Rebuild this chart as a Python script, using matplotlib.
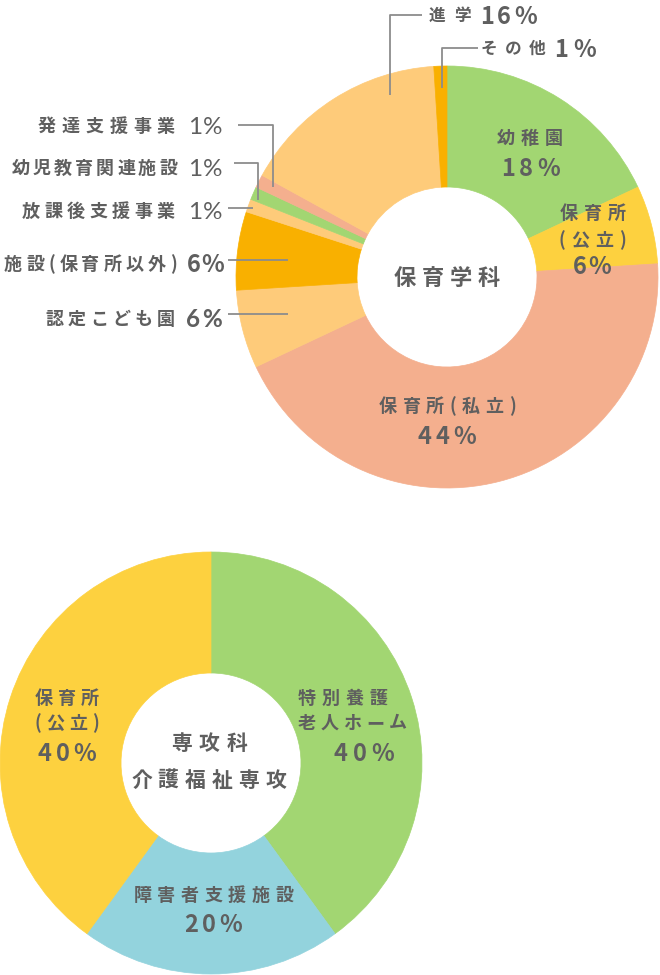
import matplotlib
matplotlib.use("Agg")
import matplotlib.pyplot as plt

plt.rcParams["font.family"] = ["Noto Sans CJK JP", "DejaVu Sans"]

# 保育学科
top_labels = ["幼稚園", "保育所\n(公立)", "保育所(私立)", "認定こども園", "施設(保育所以外)",
              "放課後支援事業", "幼児教育関連施設", "発達支援事業", "進学", "その他"]
top_values = [18, 6, 44, 6, 6, 1, 1, 1, 16, 1]
top_colors = ["#a2d672", "#fdd13f", "#f4af8e", "#fecb7a", "#f9b000",
              "#fecb7a", "#a2d672", "#f4af8e", "#fecb7a", "#f9b000"]

# 専攻科 介護福祉専攻
bottom_labels = ["特別養護\n老人ホーム", "障害者支援施設", "保育所\n(公立)"]
bottom_values = [40, 20, 40]
bottom_colors = ["#a2d672", "#93d3dd", "#fdd13f"]

TEXT = "#5f5f5f"
LINE = "#8c8c8c"

# where each text line sits: (left, right, centre y) in pixels
top_name_pos = [
    [(497, 563, 137)],
    [(560, 626, 212), (558, 626, 239)],
    [(379, 516, 405)],
    [(45, 175, 318)],
    [(4, 177, 263)],
    [(22, 175, 210)],
    [(12, 177, 167)],
    [(38, 175, 125)],
    [(429, 471, 15)],
    [(481, 545, 48)],
]
top_pct_pos = [(501, 560, 167), (573, 611, 265), (418, 476, 435), (186, 222, 318),
               (187, 222, 263), (188, 222, 210), (188, 222, 167), (188, 222, 125),
               (480, 537, 15), (554, 596, 48)]
# figure style per callout: cjk face, or latin face at a given weight
top_pct_style = ["cjk", "cjk", "cjk", "bold", "cjk", "normal", "normal", "normal",
                 "cjk", "cjk"]

bottom_name_pos = [
    [(298, 387, 697), (298, 407, 722)],
    [(134, 293, 894)],
    [(35, 99, 697), (35, 99, 722)],
]
bottom_pct_pos = [(334, 394, 752), (184, 242, 923), (38, 96, 752)]

leaders = [
    [(390, 95), (390, 15), (422, 15)],
    [(442, 88), (442, 48), (478, 48)],
    [(238, 125), (273, 125), (273, 187)],
    [(234, 163), (258, 163), (258, 200)],
    [(228, 208), (253, 208)],
    [(228, 260), (288, 260)],
    [(228, 314), (288, 314)],
]

fig = plt.figure(figsize=(6.6, 9.75), dpi=100)
ax = fig.add_axes([0, 0, 1, 1])


def donut(values, colors, center):
    # y axis is flipped, so this runs clockwise from 12 o'clock
    wedges, _ = ax.pie(values, colors=colors, startangle=-90, counterclock=True,
                       center=center, radius=211,
                       wedgeprops=dict(width=121, linewidth=0.5))
    for w in wedges:
        w.set_edgecolor(w.get_facecolor())


donut(top_values, top_colors, (447, 277))
donut(bottom_values, bottom_colors, (211, 763))

ax.set_xlim(0, 660)
ax.set_ylim(975, 0)
ax.set_aspect("equal")
ax.axis("off")

renderer = fig.canvas.get_renderer()
CJK = ["Noto Sans CJK JP", "DejaVu Sans"]
LATIN = ["Lato", "DejaVu Sans"]


def spread(s, x0, x1, y, size, weight="bold", family=CJK):
    """Lays the characters out evenly between x0 and x1."""
    kw = dict(fontsize=size, weight=weight, family=family)
    widths = []
    for ch in s:
        t = ax.text(0, 0, ch, **kw)
        widths.append(t.get_window_extent(renderer).width)
        t.remove()
    n = len(s)
    gap = max((x1 - x0 - sum(widths)) / (n - 1), 0) if n > 1 else 0
    x = x0 if n > 1 else (x0 + x1 - widths[0]) / 2
    base = y + 0.37 * size * 100 / 72
    for ch, w in zip(s, widths):
        ax.text(x, base, ch, color=TEXT, ha="left", va="baseline", **kw)
        x += w + gap


def put_labels(labels, values, name_pos, pct_pos, name_size, styles):
    for lab, val, npos, ppos, ns, st in zip(labels, values, name_pos, pct_pos,
                                            name_size, styles):
        for line, (x0, x1, y) in zip(lab.split("\n"), npos):
            spread(line, x0, x1, y, ns)
        if st == "cjk":
            spread(f"{val}%", *ppos, 17)
        else:
            spread(f"{val}%", *ppos, 17.5, weight=st, family=LATIN)


put_labels(top_labels, top_values, top_name_pos, top_pct_pos,
           [13, 13, 13, 13, 13, 13, 13, 13, 12, 12], top_pct_style)
put_labels(bottom_labels, bottom_values, bottom_name_pos, bottom_pct_pos,
           [13, 13, 13], ["cjk"] * 3)

for pts in leaders:
    xs, ys = zip(*pts)
    ax.plot(xs, ys, color=LINE, lw=1.3, solid_capstyle="butt")

spread("保育学科", 394, 500, 277, 16)
spread("専攻科", 171, 247, 742, 15)
spread("介護福祉専攻", 131, 286, 779, 15)

fig.savefig("out.png", dpi=100)
